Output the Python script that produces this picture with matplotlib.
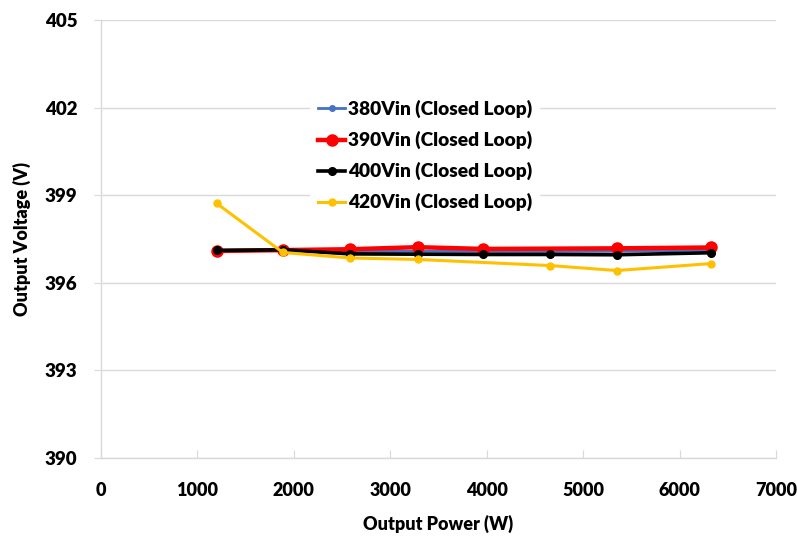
import matplotlib.pyplot as plt

plt.rcParams["font.family"] = ["Lato", "DejaVu Sans"]
plt.rcParams["font.weight"] = "heavy"

# measured output voltage vs. output power for each input voltage
power_w = [1200, 1885, 2585, 3285, 3965, 4660, 5350, 6330]

v_380 = [397.08, 397.12, 397.07, 397.08, 397.07, 397.07, 397.08, 397.12]
p_390 = [1200, 1885, 2585, 3285, 3965, 5350, 6330]
v_390 = [397.09, 397.12, 397.15, 397.22, 397.16, 397.18, 397.21]
v_400 = [397.11, 397.13, 396.99, 396.98, 396.97, 396.97, 396.96, 397.03]
p_420 = [1200, 1885, 2585, 3285, 4660, 5350, 6330]
v_420 = [398.72, 397.04, 396.85, 396.80, 396.59, 396.42, 396.66]

labels = ["380Vin (Closed Loop)", "390Vin (Closed Loop)",
          "400Vin (Closed Loop)", "420Vin (Closed Loop)"]
x_ticks = list(range(0, 7001, 1000))
y_ticks = [390, 393, 396, 399, 402, 405]

fig = plt.figure(figsize=(7.97, 5.38), dpi=100)
ax = fig.add_axes([0.1267, 0.1487, 0.8470, 0.8141])

ax.plot(power_w, v_380, color="#4472c4", lw=2, marker="o", ms=4, label=labels[0])
ax.plot(p_390, v_390, color="#ff0000", lw=3.2, marker="o", ms=8, label=labels[1])
ax.plot(power_w, v_400, color="#000000", lw=2.6, marker="o", ms=5.5, label=labels[2])
ax.plot(p_420, v_420, color="#ffc000", lw=2.2, marker="o", ms=5, label=labels[3])

ax.set_xlim(0, 7000)
ax.set_ylim(390, 405)
ax.set_xticks(x_ticks)
ax.set_yticks(y_ticks)
ax.grid(axis="y", color="#d9d9d9", lw=1)
ax.set_axisbelow(True)

for side in ("top", "right"):
    ax.spines[side].set_visible(False)
for side in ("left", "bottom"):
    ax.spines[side].set_color("#d9d9d9")
    ax.spines[side].set_linewidth(1)
ax.tick_params(axis="y", direction="out", length=5, color="#d9d9d9",
               labelsize=13.5, pad=12)
ax.tick_params(axis="x", direction="in", length=6, color="#d9d9d9",
               labelsize=13, pad=17)

ax.set_xlabel("Output Power (W)", fontsize=13, fontweight="heavy", labelpad=12)
ax.set_ylabel("Output Voltage (V)", fontsize=13, fontweight="heavy", labelpad=10)

leg = ax.legend(loc="center", bbox_to_anchor=(0.48, 0.69), frameon=True,
                fontsize=13.8, handlelength=1.4, handletextpad=0.15,
                labelspacing=0.67, borderpad=0.4)
leg.get_frame().set_facecolor("white")
leg.get_frame().set_edgecolor("none")
leg.get_frame().set_alpha(1)

fig.savefig("out.png", dpi=100, facecolor="white")
